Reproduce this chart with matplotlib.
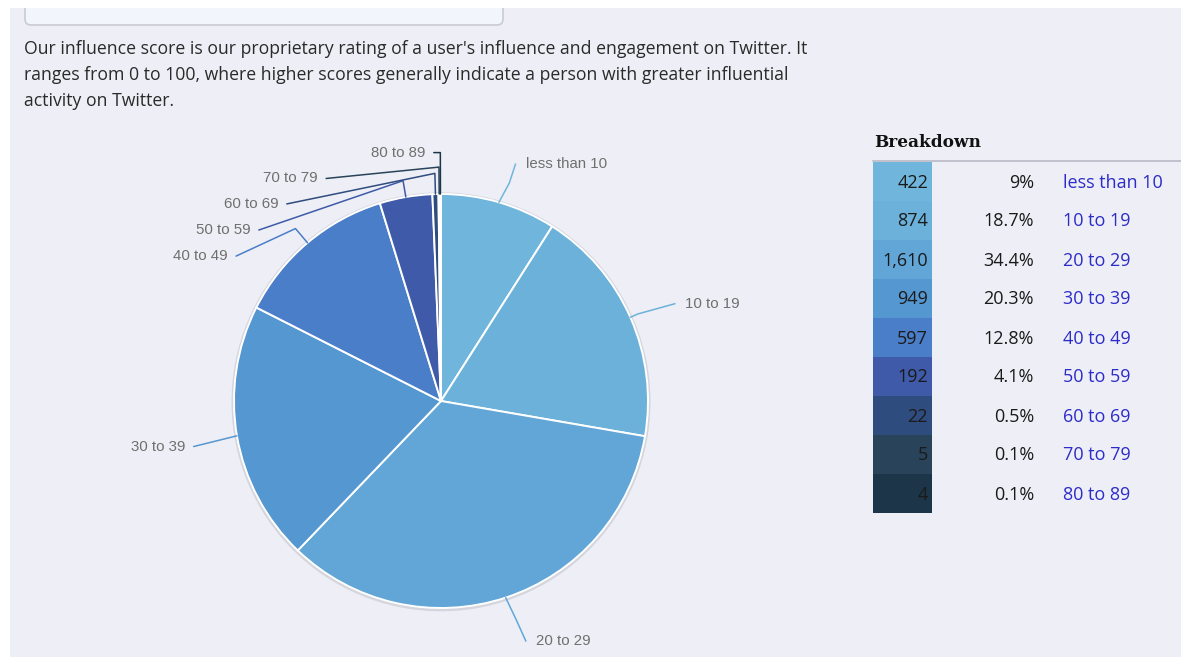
import numpy as np
import matplotlib
matplotlib.use("Agg")
import matplotlib.pyplot as plt
from matplotlib.patches import Rectangle, FancyBboxPatch, Circle

# ---- data ----
categories = ["less than 10", "10 to 19", "20 to 29", "30 to 39", "40 to 49",
              "50 to 59", "60 to 69", "70 to 79", "80 to 89"]
counts = [422, 874, 1610, 949, 597, 192, 22, 5, 4]
percent_labels = ["9%", "18.7%", "34.4%", "20.3%", "12.8%", "4.1%", "0.5%", "0.1%", "0.1%"]
count_labels = ["422", "874", "1,610", "949", "597", "192", "22", "5", "4"]
colors = ["#70b5dc", "#6bb1d9", "#61a6d7", "#5597d0", "#4a7ec8",
          "#3e5aa8", "#2f4c7e", "#28435a", "#1d3549"]
paragraph_lines = [
    "Our influence score is our proprietary rating of a user's influence and engagement on Twitter. It",
    "ranges from 0 to 100, where higher scores generally indicate a person with greater influential",
    "activity on Twitter.",
]

W, H = 1181, 657
BG = "#eeeff6"
fig = plt.figure(figsize=(W / 100, H / 100), dpi=100)
fig.patch.set_facecolor("white")

# full-figure pixel axes
bg = fig.add_axes([0, 0, 1, 1])
bg.set_xlim(0, W)
bg.set_ylim(H, 0)
bg.axis("off")
bg.add_patch(Rectangle((10, 8), W - 10, H - 8, facecolor=BG, edgecolor="none", zorder=0))
# top box (clipped)
box = FancyBboxPatch((25, -20), 478, 45, boxstyle="round,pad=0,rounding_size=6",
                     facecolor="#f2f5fb", edgecolor="#c9cbd3", linewidth=1.2, zorder=1)
bg.add_patch(box)
bg.add_patch(Rectangle((0, 0), W, 8, facecolor="white", edgecolor="none", zorder=2))

for i, line in enumerate(paragraph_lines):
    bg.text(24, 54 + 26 * i, line, fontsize=12.7, family="Open Sans", color="#2a2a2a",
            va="baseline", ha="left", zorder=3)

# ---- table ----
tx0, ty0, cw, rh = 873, 162, 59, 39
bg.text(874, 147, "Breakdown", fontsize=12.2, family="DejaVu Serif", weight="bold",
        color="#111111", va="baseline", ha="left")
bg.plot([873, W], [161, 161], color="#b9bac6", lw=1.2)
for i, (c, n, p, lab) in enumerate(zip(colors, count_labels, percent_labels, categories)):
    y = ty0 + i * rh
    bg.add_patch(Rectangle((tx0, y), cw, rh, facecolor=c, edgecolor="none"))
    yc = y + rh / 2 + 1
    bg.text(928, yc, n, fontsize=13, family="Open Sans", color="#1a1a1a", ha="right", va="center")
    bg.text(1034, yc, p, fontsize=13, family="Open Sans", color="#1a1a1a", ha="right", va="center")
    bg.text(1063, yc, lab, fontsize=13, family="Open Sans", color="#2c2cc8", ha="left", va="center")

# ---- pie ----
cx, cy, R = 441, 401, 207
L = 1.6
half = R * L
ax = fig.add_axes([(cx - half) / W, (H - cy - half) / H, 2 * half / W, 2 * half / H])
ax.patch.set_alpha(0)
ax.add_patch(Circle((0, -0.004), 1.012, facecolor="#d4d5dd", edgecolor="none", zorder=0))
wedges, _ = ax.pie(counts, colors=colors, startangle=90, counterclock=False, radius=1,
                   wedgeprops=dict(edgecolor="white", linewidth=1.4))
for w in wedges:
    w.set_zorder(1)
ax.set_xlim(-L, L)
ax.set_ylim(-L, L)
ax.axis("off")

# label placement (layout, in pie units) : text anchor and alignment
label_pos = {
    "less than 10": (0.41, 1.145, "left"),
    "10 to 19": (1.18, 0.47, "left"),
    "20 to 29": (0.46, -1.16, "left"),
    "30 to 39": (-1.235, -0.22, "right"),
    "40 to 49": (-1.03, 0.70, "right"),
    "50 to 59": (-0.92, 0.826, "right"),
    "60 to 69": (-0.785, 0.952, "right"),
    "70 to 79": (-0.595, 1.075, "right"),
    "80 to 89": (-0.075, 1.20, "right"),
}
elbow_r = {"less than 10": 1.06, "10 to 19": 1.04, "20 to 29": 1.05, "30 to 39": 1.0,
           "40 to 49": 1.09, "50 to 59": 1.08, "60 to 69": 1.1, "70 to 79": 1.13, "80 to 89": 1.2}
for w, lab, c in zip(wedges, categories, colors):
    th = np.deg2rad((w.theta1 + w.theta2) / 2)
    ax0, ay0 = np.cos(th), np.sin(th)
    er = elbow_r[lab]
    ex, ey = er * np.cos(th), er * np.sin(th)
    tx, ty, ha = label_pos[lab]
    gap = 0.05 if ha == "left" else -0.04
    if lab in ("less than 10", "20 to 29"):
        ex, ey = ax0 + 0.05 * np.sign(tx - ax0), (ay0 + ty) / 2
    ax.plot([ax0, ex, tx - gap], [ay0, ey, ty], color=c, lw=1.1, zorder=2,
            solid_capstyle="round", clip_on=False)
    ax.text(tx, ty, lab, ha=ha, va="center", fontsize=10.8, family="Liberation Sans",
            color="#6f6f6f", clip_on=False)

fig.savefig("out.png", dpi=100, facecolor=fig.get_facecolor())
